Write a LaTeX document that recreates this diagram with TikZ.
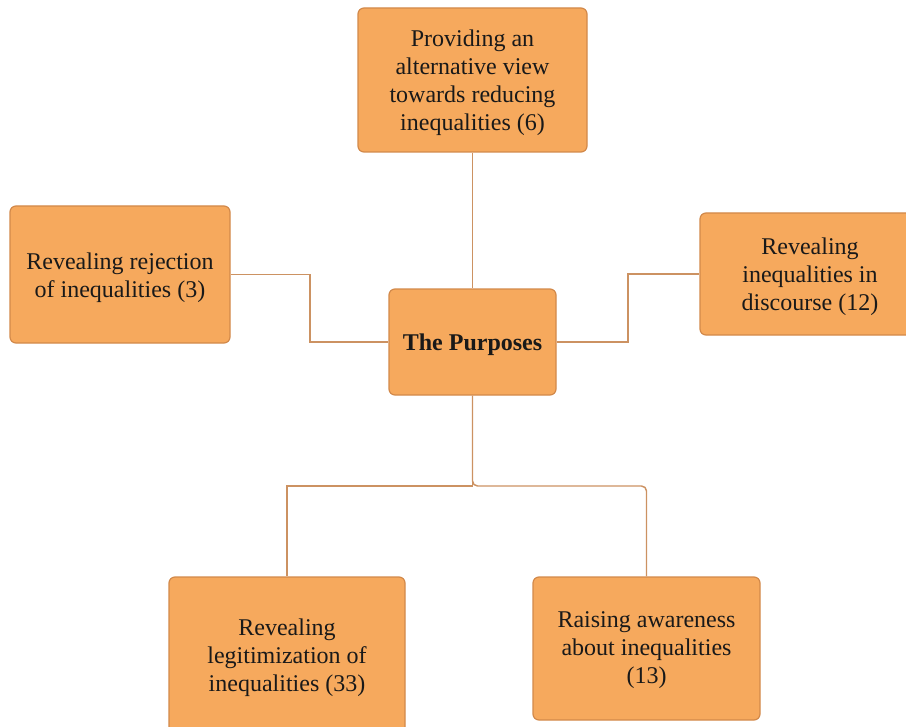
\documentclass[tikz,border=0pt]{standalone}
\usepackage{fontspec}
\setmainfont{Liberation Serif}
\definecolor{boxfill}{HTML}{F6A95D}
\definecolor{boxedge}{HTML}{D2894A}
\definecolor{linkcol}{HTML}{CC9262}
\begin{document}
\begin{tikzpicture}[x=0.75pt,y=-0.75pt,
  purpose/.style={draw=boxedge, line width=0.9pt, fill=boxfill, rounded corners=4.5pt, inner sep=0pt},
  purposetext/.style={align=center, inner sep=0pt, font=\fontsize{18pt}{21pt}\selectfont, text=black!90},
  link/.style={draw=linkcol, line width=1.1pt}]
\useasboundingbox (0,0) rectangle (906,727);

% boxes
\node[purpose, minimum width=125.25pt, minimum height=79.5pt] (ctr) at (472.5,342) {};
\node[purpose, minimum width=171.75pt, minimum height=108pt] (top) at (472.5,80) {};
\node[purpose, minimum width=165pt, minimum height=102.75pt] (lft) at (120,274.5) {};
\node[purpose, minimum width=165pt, minimum height=91.5pt] (rgt) at (810,274) {};
\node[purpose, minimum width=177pt, minimum height=118.5pt] (bl) at (287,656) {};
\node[purpose, minimum width=170.25pt, minimum height=107.25pt] (br) at (646.5,648.5) {};

% box texts, set slightly below each box centre
\node[purposetext, font=\fontsize{18pt}{21pt}\selectfont\bfseries] (ctrt) at ([yshift=-2.25pt]ctr.center) {The Purposes};
\node[purposetext] (topt) at ([yshift=-2.25pt]top.center)
  {Providing an\\alternative view\\towards reducing\\inequalities (6)};
\node[purposetext] (lftt) at ([yshift=-2.25pt]lft.center)
  {Revealing rejection\\of inequalities (3)};
\node[purposetext] (rgtt) at ([yshift=-2.25pt]rgt.center)
  {Revealing\\inequalities in\\discourse (12)};
\node[purposetext] (blt) at ([yshift=-1.5pt]bl.center)
  {Revealing\\legitimization of\\inequalities (33)};
\node[purposetext] (brt) at ([yshift=-1.5pt]br.center)
  {Raising awareness\\about inequalities\\(13)};

% bend positions of the elbow connectors
\coordinate (lbend) at (310,0);
\coordinate (rbend) at (628,0);
\coordinate (bus) at (0,486);

% connectors
\draw[link] (top.south) -- (ctr.north);
\draw[link] (lft.east) -- (lft.east -| lbend) |- (ctr.west);
\draw[link] (ctr.east) -- (ctr.east -| rbend) |- (rgt.west);
\draw[link] (ctr.south) -- (ctr.south |- bus) -| (bl.north);
\draw[link, rounded corners=3.75pt] (ctr.south) -- (ctr.south |- bus) -| (br.north);
\end{tikzpicture}
\end{document}
